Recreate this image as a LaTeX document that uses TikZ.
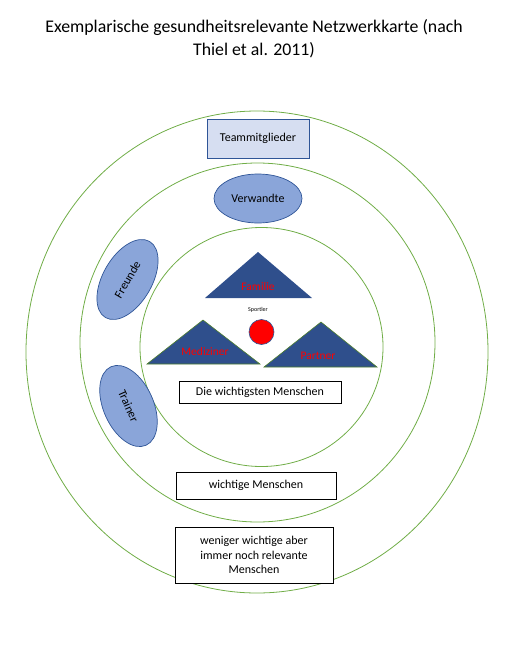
\documentclass[tikz,border=0pt]{standalone}
\usepackage{fontspec}
\setmainfont{Carlito}
\usetikzlibrary{shapes.geometric}
\definecolor{ringgreen}{HTML}{70AD47}
\definecolor{darkblue}{HTML}{2F4F8C}
\definecolor{ellfill}{HTML}{8AA5D9}
\definecolor{boxfill}{HTML}{D6DEF1}
\definecolor{edgeblue}{HTML}{2F5597}
\definecolor{trigreen}{HTML}{4E7F2E}
\tikzset{
  ring/.style={draw=ringgreen, line width=0.8pt},
  blob/.style={ellipse, draw=edgeblue, fill=ellfill, line width=0.7pt, inner sep=0pt, font=\fontsize{12}{14}\selectfont},
  labelbox/.style={draw=black, fill=white, line width=0.7pt, inner sep=0pt, align=center, font=\fontsize{12}{14.5}\selectfont},
  tri/.style={fill=darkblue},
  trilabel/.style={text=red, font=\fontsize{11.5}{13}\selectfont, inner sep=0pt}
}
\begin{document}
\begin{tikzpicture}[x=1pt,y=1pt]
\useasboundingbox (0,0) rectangle (527,-645);
% title
\node[font=\fontsize{17.8}{23}\selectfont, align=center] (title) at (254,-38.5) {Exemplarische gesundheitsrelevante Netzwerkkarte (nach\\Thiel et al. 2011)};
% rings
\draw[ring] (257,-352) ellipse [x radius=231, y radius=241];
\draw[ring] (257.5,-342.5) ellipse [x radius=177.5, y radius=179.5];
\draw[ring] (261.5,-347) ellipse [x radius=121.5, y radius=119.5];
% outer layer
\node[draw=edgeblue, fill=boxfill, line width=0.7pt, minimum width=102pt, minimum height=39pt, inner sep=0pt, font=\fontsize{12}{14}\selectfont] (team) at (258,-138.5) {Teammitglieder};
\node[labelbox, minimum width=158pt, minimum height=56pt] (weniger) at (254,-555) {weniger wichtige aber\\immer noch relevante\\Menschen};
% middle layer
\node[blob, minimum width=88pt, minimum height=49pt] (verw) at (258,-198.5) {Verwandte};
\node[blob, minimum width=88pt, minimum height=49pt, rotate=60] (freunde) at (127.5,-279.5) {Freunde};
\node[blob, minimum width=86pt, minimum height=50pt, rotate=-66] (trainer) at (128.5,-406) {Trainer};
\node[labelbox, minimum width=160pt, minimum height=27pt] (wichtig) at (256,-485.5) {wichtige Menschen};
% inner layer
\fill[tri] (205,-298) -- (258,-252) -- (312,-298) -- cycle;
\node[trilabel] (familie) at (258,-287) {Familie};
\fill[tri, draw=trigreen, line width=0.6pt] (147,-364) -- (203,-320) -- (260,-364) -- cycle;
\node[trilabel] (med) at (205,-352) {Mediziner};
\fill[tri, draw=trigreen, line width=0.6pt] (264,-367) -- (321,-322) -- (377,-367) -- cycle;
\node[trilabel] (partner) at (318,-356) {Partner};
\node[font=\fontsize{6}{7}\selectfont, inner sep=0pt] (sportlerlabel) at (258,-309.5) {Sportler};
\node[circle, draw=edgeblue, fill=red, line width=0.6pt, minimum size=25pt, inner sep=0pt] (sportler) at (261.5,-332) {};
\node[labelbox, minimum width=162pt, minimum height=22pt] (wichtigste) at (260,-392) {Die wichtigsten Menschen};
\end{tikzpicture}
\end{document}
